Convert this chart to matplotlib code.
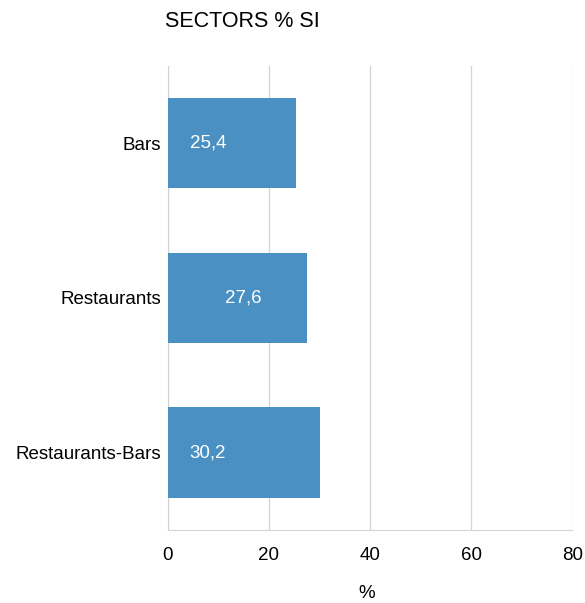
import matplotlib.pyplot as plt

plt.rcParams['font.family'] = ['Liberation Sans', 'DejaVu Sans']

categories = ['Bars', 'Restaurants', 'Restaurants-Bars']
values = [25.4, 27.6, 30.2]
labels = ['25,4', '27,6', '30,2']
label_x = [7.9, 15.0, 7.9]
xticks = [0, 20, 40, 60, 80]

fig = plt.figure(figsize=(5.85, 6.03), dpi=100)
ax = fig.add_axes([0.287, 0.121, 0.691, 0.770])

pos = list(range(len(categories)))
ax.barh(pos, values, height=0.585, color='#4A90C2', zorder=3)
for p, lx, lab in zip(pos, label_x, labels):
    ax.text(lx, p, lab, color='white', fontsize=13.5, ha='center', va='center', zorder=4)

ax.set_ylim(2.5, -0.5)
ax.set_xlim(0, 80)
ax.set_yticks(pos)
ax.set_yticklabels(categories, fontsize=13.5)
ax.set_xticks(xticks)
ax.set_xticklabels([str(t) for t in xticks], fontsize=13.5)
ax.tick_params(length=0)
ax.tick_params(axis='x', pad=12)
ax.tick_params(axis='y', pad=5)
ax.grid(axis='x', color='#D4D4D4', linewidth=0.9, zorder=0)
for s in ['top', 'right']:
    ax.spines[s].set_visible(False)
for s in ['left', 'bottom']:
    ax.spines[s].set_color('#D4D4D4')

fig.text(0.282, 0.965, 'SECTORS % SI', fontsize=15.5, ha='left', va='center')
fig.text(0.627, 0.002, '%', fontsize=13.5, ha='center', va='bottom')

fig.savefig('out.png', dpi=100)
